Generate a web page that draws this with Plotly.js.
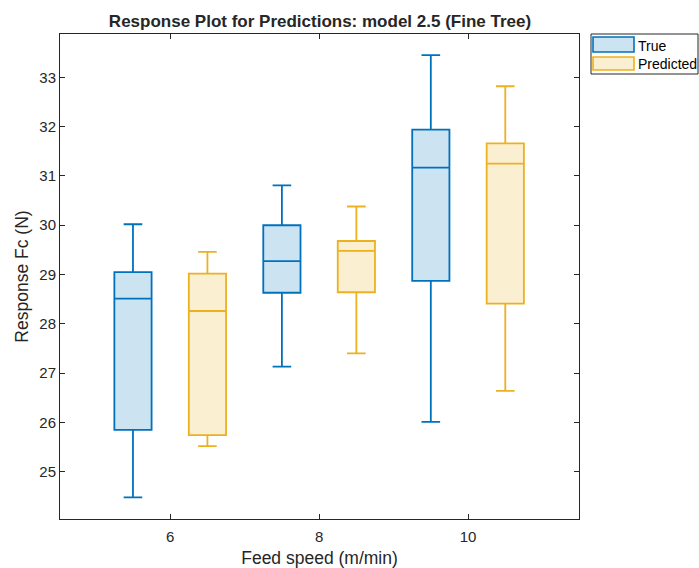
<!DOCTYPE html>
<html>
<head>
<meta charset="utf-8">
<script src="https://cdn.plot.ly/plotly-3.0.1.min.js"></script>
<style>html,body{margin:0;padding:0;background:#fff;}#chart{width:699px;height:568px;}</style>
</head>
<body>
<div id="chart"></div>
<script>
const feedSpeeds = [6, 8, 10];
const xTickLabels = ["6", "8", "10"];
const yTicks = [25, 26, 27, 28, 29, 30, 31, 32, 33];
const seriesNames = ["True", "Predicted"];

const trueMin    = [24.48, 27.13, 26.01];
const trueQ1     = [25.85, 28.63, 28.87];
const trueMedian = [28.51, 29.27, 31.17];
const trueQ3     = [29.05, 30.00, 31.94];
const trueMax    = [30.02, 30.81, 33.45];

const predMin    = [25.52, 27.40, 26.64];
const predQ1     = [25.74, 28.64, 28.41];
const predMedian = [28.26, 29.48, 31.25];
const predQ3     = [29.02, 29.68, 31.66];
const predMax    = [29.46, 30.38, 32.82];

const font = "Arial, 'Liberation Sans', Helvetica, sans-serif";
const lineColors = ['#0072BD', '#EDB120'];
const fillColors = ['rgba(0,114,189,0.2)', 'rgba(237,177,32,0.2)'];

function boxTrace(name, lo, q1, med, q3, hi, line, fill) {
  return {
    type: 'box', name: name, x: feedSpeeds,
    lowerfence: lo, q1: q1, median: med, q3: q3, upperfence: hi,
    boxpoints: false, hoverinfo: 'skip', showlegend: false,
    line: {color: line, width: 1.8},
    fillcolor: fill, whiskerwidth: 0.5
  };
}

const data = [
  boxTrace(seriesNames[0], trueMin, trueQ1, trueMedian, trueQ3, trueMax, lineColors[0], fillColors[0]),
  boxTrace(seriesNames[1], predMin, predQ1, predMedian, predQ3, predMax, lineColors[1], fillColors[1])
];

// plot area in pixels
const PL = 60, PR = 579, PT = 34, PB = 519;
const px = x => (x - PL) / (PR - PL);
const py = y => (PB - y) / (PB - PT);

const shapes = [
  {type: 'rect', xref: 'paper', yref: 'paper', x0: px(591), x1: px(698), y0: py(74), y1: py(34),
   line: {color: '#262626', width: 1}, fillcolor: '#fff'}
];
const annotations = [];
const swatchY = [[37, 52], [57, 70]];
const textY = [46, 64];
for (let i = 0; i < 2; i++) {
  shapes.push({type: 'rect', xref: 'paper', yref: 'paper', x0: px(593), x1: px(634),
    y0: py(swatchY[i][1]), y1: py(swatchY[i][0]),
    line: {color: lineColors[i], width: 1.6}, fillcolor: fillColors[i]});
  annotations.push({xref: 'paper', yref: 'paper', x: px(636), y: py(textY[i]),
    xanchor: 'left', yanchor: 'middle', showarrow: false, text: seriesNames[i],
    font: {family: font, size: 14, color: '#000'}});
}

const axisCommon = {
  showgrid: false, zeroline: false, showline: true, linecolor: '#262626', linewidth: 1,
  mirror: 'ticks', ticks: 'inside', ticklen: 5, tickcolor: '#262626',
  tickfont: {family: font, size: 15, color: '#262626'}
};

const layout = {
  width: 699, height: 568,
  margin: {l: PL, r: 699 - PR, t: PT, b: 568 - PB},
  paper_bgcolor: '#fff', plot_bgcolor: '#fff',
  boxmode: 'group', boxgap: 0, boxgroupgap: 0.5,
  title: {text: '<b>Response Plot for Predictions: model 2.5 (Fine Tree)</b>',
          font: {family: font, size: 17, color: '#262626'},
          x: px(320) * (PR - PL) / 699 + PL / 699, xanchor: 'center', y: 1 - 21 / 568, yanchor: 'middle'},
  xaxis: Object.assign({}, axisCommon, {
    range: [4.52, 11.49], tickvals: feedSpeeds, ticktext: xTickLabels, ticklabelstandoff: 4,
    title: {text: 'Feed speed (m/min)', font: {family: font, size: 17.5, color: '#262626'}, standoff: 9}
  }),
  yaxis: Object.assign({}, axisCommon, {
    range: [24.04, 33.88], tickvals: yTicks,
    title: {text: 'Response Fc (N)', font: {family: font, size: 17.5, color: '#262626'}, standoff: 6}
  }),
  showlegend: false,
  shapes: shapes,
  annotations: annotations
};

Plotly.newPlot('chart', data, layout, {displayModeBar: false, staticPlot: true});
</script>
</body>
</html>
